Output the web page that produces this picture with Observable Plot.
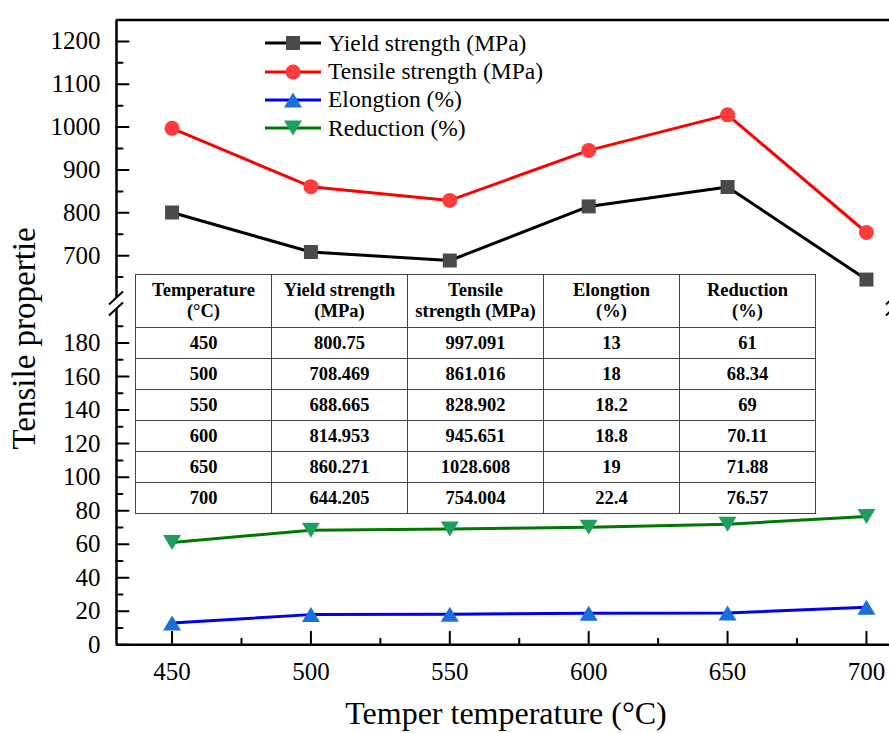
<!DOCTYPE html>
<html><head><meta charset="utf-8">
<script src="https://cdn.jsdelivr.net/npm/d3@7"></script>
<script src="https://cdn.jsdelivr.net/npm/@observablehq/plot@0.6"></script>
<style>
body{margin:0;background:#fff;}
#wrap{position:relative;width:889px;height:733px;overflow:hidden;font-family:"Liberation Serif","Times New Roman",serif;color:#000;}
#legend{position:absolute;left:265px;top:29px;font-family:"Liberation Serif",serif;}
.row{display:flex;align-items:center;height:28.4px;font-size:23.5px;white-space:nowrap;}
.row svg{margin-right:7px;flex:none;}
#tbl{position:absolute;left:135px;top:274px;border-collapse:collapse;table-layout:fixed;width:681px;background:#fff;font-family:"Liberation Serif",serif;font-weight:bold;font-size:18.5px;line-height:21px;}
#tbl td,#tbl th{border:1px solid #444;padding:0;text-align:center;font-weight:bold;}
#tbl th{height:52px;}
#tbl td{height:30px;}
</style></head><body><div id="wrap"></div>
<script>
// ---- data ----
const temperatures = [450, 500, 550, 600, 650, 700];
const yieldStrength = [800.75, 708.469, 688.665, 814.953, 860.271, 644.205];
const tensileStrength = [997.091, 861.016, 828.902, 945.651, 1028.608, 754.004];
const elongation = [13, 18, 18.2, 18.8, 19, 22.4];
const reduction = [61, 68.34, 69, 70.11, 71.88, 76.57];
const seriesNames = ["Yield strength (MPa)", "Tensile strength (MPa)", "Elongtion (%)", "Reduction (%)"];
const tableHeaders = [["Temperature", "(°C)"], ["Yield strength", "(MPa)"], ["Tensile", "strength (MPa)"], ["Elongtion", "(%)"], ["Reduction", "(%)"]];
const xTicks = [450, 500, 550, 600, 650, 700];
const xMinorTicks = [475, 525, 575, 625, 675];
const yTicksLower = [0, 20, 40, 60, 80, 100, 120, 140, 160, 180];
const yTicksUpper = [700, 800, 900, 1000, 1100, 1200];
const yMinorLower = [10, 30, 50, 70, 90, 110, 130, 150, 170, 190];
const yMinorUpper = [650, 750, 850, 950, 1050, 1150];
const xTitle = "Temper temperature (°C)";
const yTitle = "Tensile propertie";

// broken axis: lower segment 0–200, upper segment 600–1250
const yBreakValues = [0, 200, 600, 1250];
const yBreakVirtual = [0, 335.3, 346.3, 624.8];
const yBreak = d3.scaleLinear().domain(yBreakValues).range(yBreakVirtual);

const serif = "Liberation Serif";

// ---- symbols ----
const squareSym = {draw(c, s) { const r = Math.sqrt(s / Math.PI); c.rect(-r, -r, 2 * r, 2 * r); }};
const circleSym = d3.symbolCircle;
const triUpSym = {draw(c, s) { const r = Math.sqrt(s / Math.PI); c.moveTo(0, -r); c.lineTo(1.2 * r, r); c.lineTo(-1.2 * r, r); c.closePath(); }};
const triDownSym = {draw(c, s) { const r = Math.sqrt(s / Math.PI); c.moveTo(0, r); c.lineTo(1.2 * r, -r); c.lineTo(-1.2 * r, -r); c.closePath(); }};
const tickShape = {draw(c, l) { c.moveTo(0, 0); c.lineTo(0, -l); }};

const series = [
  {name: seriesNames[0], values: yieldStrength, line: "#000000", fill: "#4a4a4a", sym: squareSym, r: 7},
  {name: seriesNames[1], values: tensileStrength, line: "#ff0000", fill: "#ff3b3b", sym: circleSym, r: 7.5},
  {name: seriesNames[2], values: elongation, line: "#0000ee", fill: "#1b6fd8", sym: triUpSym, r: 7.5},
  {name: seriesNames[3], values: reduction, line: "#007800", fill: "#1f9f5f", sym: triDownSym, r: 7.5}
];

const xMin = 430, xMax = 708.3;

function breakMarks(index, scales, values, dims) {
  const sx = scales.x, sy = scales.y;
  const ya = sy(yBreak(600)), yb = sy(yBreak(200));
  const g = d3.create("svg:g").attr("stroke", "black").attr("stroke-width", 2);
  for (const xp of [sx(xMin), dims.width + 4]) {
    for (const yy of [ya, yb]) {
      g.append("line").attr("x1", xp - 7).attr("y1", yy + 6.5).attr("x2", xp + 7).attr("y2", yy - 6.5);
    }
  }
  return g.node();
}

const yTicksAll = yTicksLower.concat(yTicksUpper);
const marks = [
  Plot.ruleX([xMin], {y1: 0, y2: 200, strokeWidth: 2.5}),
  Plot.ruleX([xMin], {y1: 600, y2: 1250, strokeWidth: 2.5}),
  Plot.ruleY([0], {strokeWidth: 2.5}),
  Plot.ruleY([1250], {strokeWidth: 2.5}),
  Plot.vector(yTicksAll, {x: () => xMin, y: d => d, length: 12, rotate: 90, anchor: "start", shape: tickShape, strokeWidth: 2}),
  Plot.vector(yMinorLower.concat(yMinorUpper), {x: () => xMin, y: d => d, length: 6, rotate: 90, anchor: "start", shape: tickShape, strokeWidth: 2}),
  Plot.vector(xTicks, {x: d => d, y: () => 0, length: 13, rotate: 0, anchor: "start", shape: tickShape, strokeWidth: 2}),
  Plot.vector(xMinorTicks, {x: d => d, y: () => 0, length: 6, rotate: 0, anchor: "start", shape: tickShape, strokeWidth: 2}),
  Plot.text(yTicksAll, {x: () => xMin, y: d => d, text: d => String(d), textAnchor: "end", lineAnchor: "middle", dx: -16, fontSize: 25, fontFamily: serif}),
  Plot.text(xTicks, {x: d => d, y: () => 0, text: d => String(d), textAnchor: "middle", lineAnchor: "top", dy: 17, fontSize: 25, fontFamily: serif}),
  breakMarks,
  Plot.text([xTitle], {frameAnchor: "bottom", textAnchor: "middle", dx: 3, dy: 69, fontSize: 32, lineAnchor: "middle", fontFamily: serif}),
  Plot.text([yTitle], {frameAnchor: "left", textAnchor: "middle", rotate: -90, dx: -92, dy: 6, fontSize: 33, lineAnchor: "middle", fontFamily: serif})
];
for (const s of series) {
  marks.push(Plot.line(temperatures, {x: d => d, y: (d, i) => s.values[i], stroke: s.line, strokeWidth: 3}));
}
for (const s of series) {
  marks.push(Plot.dot(temperatures, {x: d => d, y: (d, i) => s.values[i], symbol: s.sym, r: s.r, fill: s.fill, stroke: "none"}));
}

const chart = Plot.plot({
  width: 889, height: 733,
  marginLeft: 116, marginRight: 0, marginTop: 19.5, marginBottom: 88.7,
  style: {fontFamily: "'Liberation Serif', serif", background: "white", color: "black"},
  x: {domain: [xMin, xMax], axis: null},
  y: {transform: v => yBreak(v), domain: [yBreakVirtual[0], yBreakVirtual[3]], axis: null},
  marks
});
const wrap = document.getElementById("wrap");
wrap.appendChild(chart);

// ---- legend ----
const legend = document.createElement("div");
legend.id = "legend";
for (const s of series) {
  const row = document.createElement("div");
  row.className = "row";
  const svg = d3.create("svg").attr("width", 56).attr("height", 28);
  svg.append("line").attr("x1", 0).attr("x2", 56).attr("y1", 14).attr("y2", 14).attr("stroke", s.line).attr("stroke-width", 3);
  svg.append("path").attr("transform", "translate(28,14)").attr("d", d3.symbol(s.sym, Math.PI * s.r * s.r)()).attr("fill", s.fill);
  row.appendChild(svg.node());
  const span = document.createElement("span");
  span.textContent = s.name;
  row.appendChild(span);
  legend.appendChild(row);
}
wrap.appendChild(legend);

// ---- table ----
const tbl = document.createElement("table");
tbl.id = "tbl";
const hr = document.createElement("tr");
for (const [a, b] of tableHeaders) {
  const th = document.createElement("th");
  th.appendChild(document.createTextNode(a));
  th.appendChild(document.createElement("br"));
  th.appendChild(document.createTextNode(b));
  hr.appendChild(th);
}
tbl.appendChild(hr);
temperatures.forEach((t, i) => {
  const tr = document.createElement("tr");
  for (const v of [t, yieldStrength[i], tensileStrength[i], elongation[i], reduction[i]]) {
    const td = document.createElement("td");
    td.textContent = String(v);
    tr.appendChild(td);
  }
  tbl.appendChild(tr);
});
wrap.appendChild(tbl);
</script></body></html>
